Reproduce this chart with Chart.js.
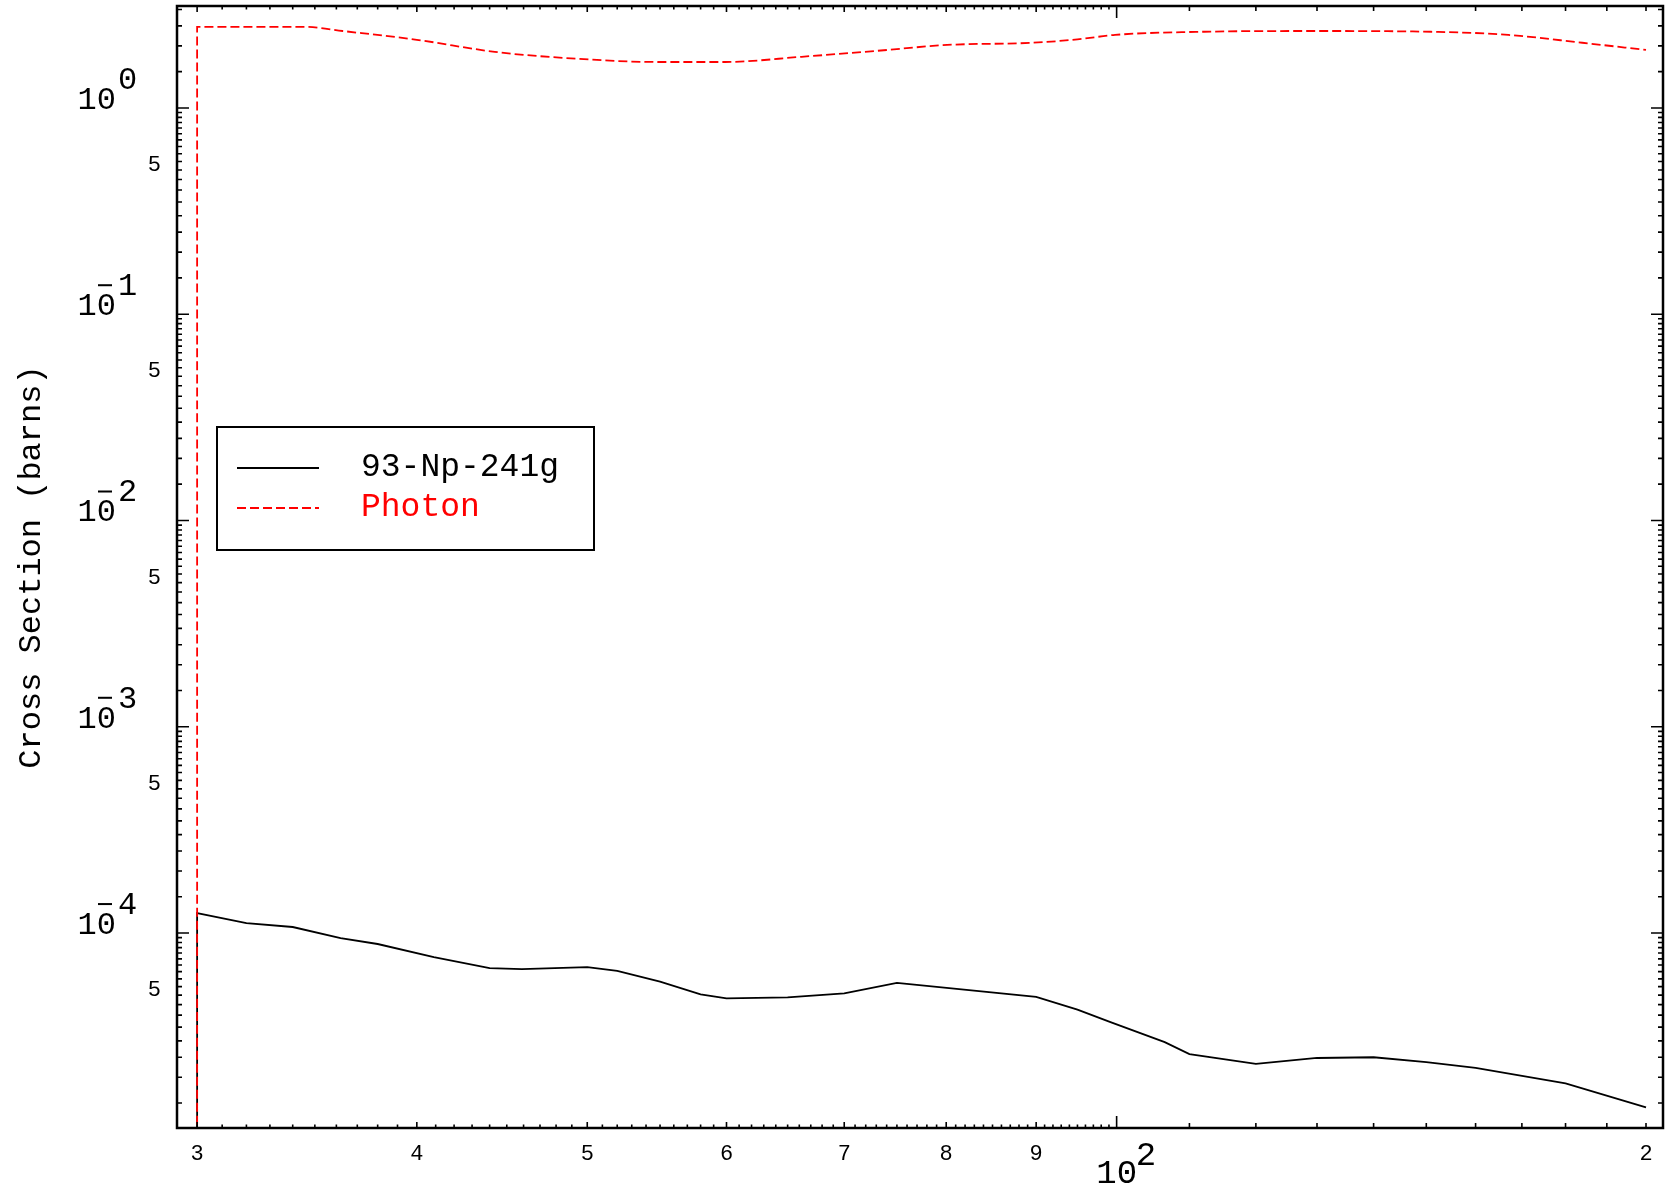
<!DOCTYPE html>
<html>
<head>
<meta charset="utf-8">
<script src="https://cdn.jsdelivr.net/npm/chart.js@4.4.1/dist/chart.umd.min.js"></script>
<style>
html,body{margin:0;padding:0;background:#fff;}
#wrap{width:1667px;height:1190px;position:relative;}
</style>
</head>
<body>
<div id="wrap"><canvas id="c"></canvas></div>
<script>
// ---- data ----
const npEnergy = [30, 30, 32, 34, 36.2, 38, 40.9, 44, 45.9, 50, 52, 55, 58, 60, 65, 70, 75, 90, 95, 99.2, 106.5, 110, 120, 130, 140, 150, 160, 180, 200];
const npXs = [1e-6, 1.25e-4, 1.117e-4, 1.07e-4, 9.46e-5, 8.85e-5, 7.65e-5, 6.76e-5, 6.68e-5, 6.84e-5, 6.56e-5, 5.82e-5, 5.05e-5, 4.82e-5, 4.88e-5, 5.1e-5, 5.73e-5, 4.9e-5, 4.25e-5, 3.7e-5, 2.96e-5, 2.59e-5, 2.32e-5, 2.48e-5, 2.5e-5, 2.37e-5, 2.22e-5, 1.87e-5, 1.43e-5];
const phEnergy = [30, 30, 34.6, 36.3, 40, 44.3, 48.4, 54.9, 59.9, 66.2, 73, 80.1, 89.6, 95, 99.8, 111.8, 129.4, 151, 167, 184, 200];
const phXs = [1e-6, 2.47, 2.47, 2.36, 2.14, 1.87, 1.75, 1.67, 1.67, 1.77, 1.89, 2.02, 2.07, 2.15, 2.26, 2.34, 2.36, 2.34, 2.26, 2.07, 1.91];

const seriesLabels = ['93-Np-241g', 'Photon'];
const yAxisTitle = 'Cross Section (barns)';

const xTickValues = [30, 40, 50, 60, 70, 80, 90, 100, 200];
const xTickLabels = ['3', '4', '5', '6', '7', '8', '9', '10^2', '2'];
const yMajorValues = [1, 0.1, 0.01, 0.001, 0.0001];
const yMajorLabels = ['10^0', '10^-1', '10^-2', '10^-3', '10^-4'];
const yFiveValues = [0.5, 0.05, 0.005, 0.0005, 0.00005];
const yFiveLabels = ['5', '5', '5', '5', '5'];

const X_MIN = 29.22, X_MAX = 204.5;
const Y_MIN = 1.135e-5, Y_MAX = 3.12;

const FONT = '"Liberation Mono", "Courier New", monospace';

function toPoints(xs, ys) { return xs.map((x, i) => ({ x: x, y: ys[i] })); }

const decorPlugin = {
  id: 'decor',
  afterDraw(chart) {
    const ctx = chart.ctx;
    const a = chart.chartArea;
    const xs = chart.scales.x, ys = chart.scales.y;
    ctx.save();
    ctx.strokeStyle = '#000';
    ctx.fillStyle = '#000';

    // frame
    ctx.lineWidth = 2.5;
    ctx.strokeRect(a.left, a.top, a.right - a.left, a.bottom - a.top);

    // x ticks (inward, top and bottom)
    ctx.lineWidth = 1.6;
    const xt = [];
    for (let v = 30; v < 100; v += 1) xt.push(v);
    for (let v = 100; v <= 200; v += 10) xt.push(v);
    xt.forEach(v => {
      if (v < X_MIN || v > X_MAX) return;
      let len = 3.5;
      if (v === 100) len = 12;
      else if (v < 100 && v % 10 === 0) len = 6;
      else if (v > 100) len = 5;
      const px = xs.getPixelForValue(v);
      ctx.beginPath();
      ctx.moveTo(px, a.bottom); ctx.lineTo(px, a.bottom - len);
      ctx.moveTo(px, a.top); ctx.lineTo(px, a.top + len);
      ctx.stroke();
    });

    // y ticks (inward, left and right)
    for (let n = -6; n <= 1; n++) {
      for (let m = 1; m < 10; m += 0.5) {
        const v = m * Math.pow(10, n);
        if (v < Y_MIN || v > Y_MAX) continue;
        const len = (m === 1) ? 12 : 5;
        const py = ys.getPixelForValue(v);
        ctx.beginPath();
        ctx.moveTo(a.left, py); ctx.lineTo(a.left + len, py);
        ctx.moveTo(a.right, py); ctx.lineTo(a.right - len, py);
        ctx.stroke();
      }
    }

    // y major labels
    yMajorValues.forEach((v, i) => {
      const py = ys.getPixelForValue(v);
      const parts = yMajorLabels[i].split('^');
      const exp = parts[1];
      ctx.font = '32px ' + FONT;
      ctx.textAlign = 'right';
      ctx.textBaseline = 'alphabetic';
      const baseRight = a.left - 61;
      ctx.fillText(parts[0], baseRight, py + 1);
      ctx.textAlign = 'left';
      const digit = exp.replace('-', '');
      ctx.fillText(digit, baseRight + 2, py - 19);
      if (exp.startsWith('-')) {
        ctx.fillRect(baseRight - 18, py - 30, 14, 2);
      }
    });
    // y "5" labels
    ctx.font = '22px ' + FONT;
    ctx.textAlign = 'right';
    yFiveValues.forEach((v, i) => {
      const py = ys.getPixelForValue(v);
      ctx.fillText(yFiveLabels[i], a.left - 16, py + 1);
    });

    // x labels
    xTickValues.forEach((v, i) => {
      const px = xs.getPixelForValue(v);
      const lab = xTickLabels[i];
      if (lab.indexOf('^') >= 0) {
        const parts = lab.split('^');
        ctx.font = '34px ' + FONT;
        ctx.textAlign = 'center';
        ctx.fillText(parts[0], px, a.bottom + 55);
        ctx.textAlign = 'left';
        ctx.fillText(parts[1], px + 19, a.bottom + 37);
      } else {
        ctx.font = '22px ' + FONT;
        ctx.textAlign = 'center';
        ctx.fillText(lab, px, a.bottom + 32);
      }
    });

    // y axis title
    ctx.save();
    ctx.translate(32, (a.top + a.bottom) / 2);
    ctx.rotate(-Math.PI / 2);
    ctx.font = '32px ' + FONT;
    ctx.textAlign = 'center';
    ctx.textBaseline = 'middle';
    ctx.fillStyle = '#000';
    ctx.fillText(yAxisTitle, 0, 0);
    ctx.restore();

    // legend box
    const lx = 217, ly = 427, lw = 377, lh = 123;
    ctx.fillStyle = '#fff';
    ctx.fillRect(lx, ly, lw, lh);
    ctx.lineWidth = 2;
    ctx.strokeStyle = '#000';
    ctx.strokeRect(lx, ly, lw, lh);
    chart.data.datasets.forEach((ds, i) => {
      const yy = ly + 41 + i * 40;
      ctx.save();
      ctx.strokeStyle = ds.borderColor;
      ctx.lineWidth = ds.borderWidth;
      ctx.setLineDash(ds.borderDash || []);
      ctx.beginPath();
      ctx.moveTo(lx + 20, yy); ctx.lineTo(lx + 102, yy);
      ctx.stroke();
      ctx.restore();
      ctx.font = '33px ' + FONT;
      ctx.textAlign = 'left';
      ctx.textBaseline = 'alphabetic';
      ctx.fillStyle = ds.borderColor;
      ctx.fillText(ds.label, lx + 144, yy + 8);
    });
    ctx.restore();
  }
};

new Chart(document.getElementById('c'), {
  type: 'line',
  data: {
    datasets: [
      {
        label: seriesLabels[0],
        data: toPoints(npEnergy, npXs),
        borderColor: '#000000',
        borderWidth: 1.8,
        pointRadius: 0,
        tension: 0,
        fill: false,
        order: 2
      },
      {
        label: seriesLabels[1],
        data: toPoints(phEnergy, phXs),
        borderColor: '#ff0000',
        borderWidth: 1.8,
        borderDash: [9, 4],
        pointRadius: 0,
        cubicInterpolationMode: 'monotone',
        fill: false,
        order: 1
      }
    ]
  },
  options: {
    responsive: true,
    maintainAspectRatio: false,
    devicePixelRatio: 1,
    animation: false,
    layout: { padding: { left: 0, right: 4, top: 6, bottom: 0 } },
    plugins: { legend: { display: false }, tooltip: { enabled: false } },
    scales: {
      x: {
        type: 'logarithmic',
        min: X_MIN, max: X_MAX,
        grid: { display: false },
        border: { display: false },
        ticks: { display: false },
        afterFit: s => { s.height = 62; }
      },
      y: {
        type: 'logarithmic',
        min: Y_MIN, max: Y_MAX,
        grid: { display: false },
        border: { display: false },
        ticks: { display: false },
        afterFit: s => { s.width = 177; }
      }
    }
  },
  plugins: [decorPlugin]
});
</script>
</body>
</html>
